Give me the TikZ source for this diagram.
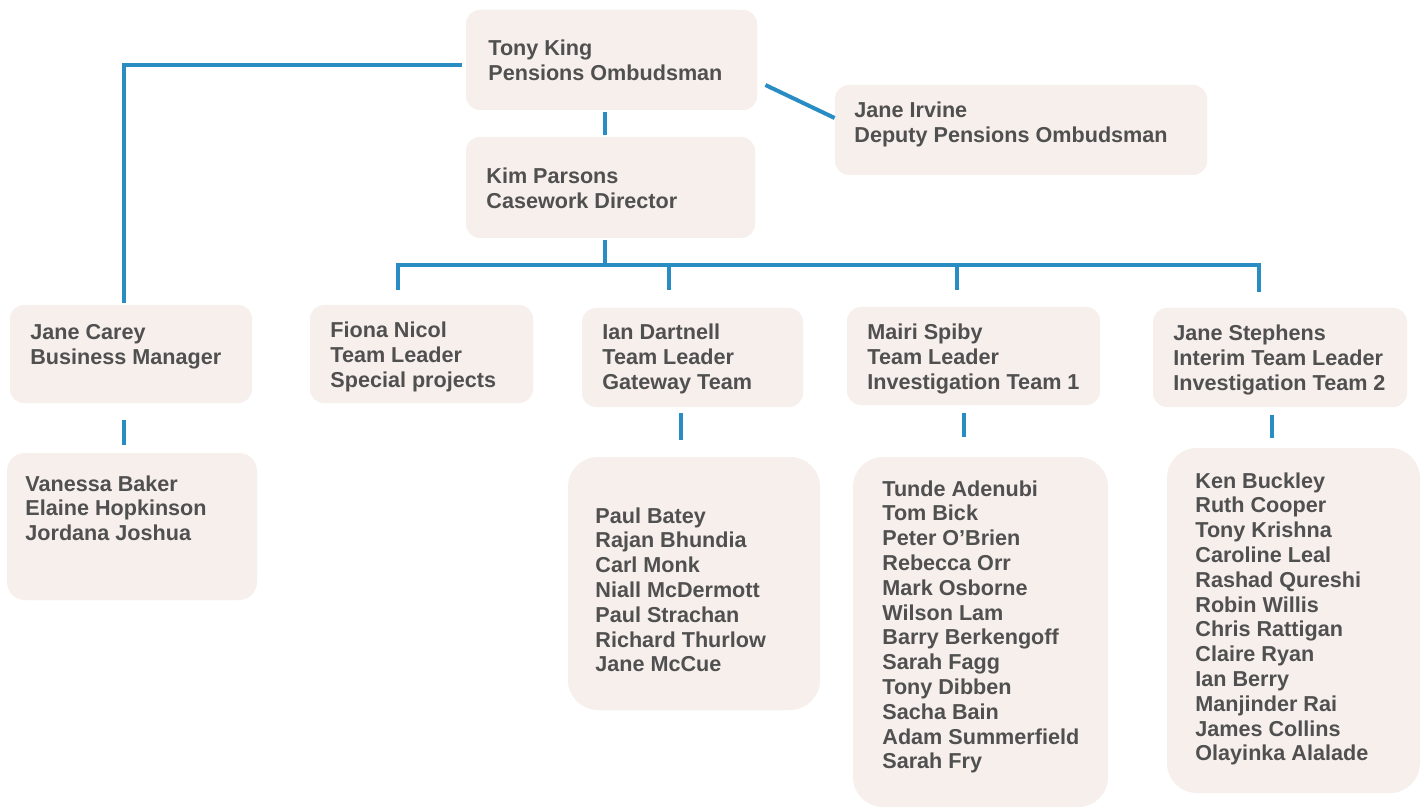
\documentclass[tikz,border=0pt]{standalone}
\usepackage{fontspec}
\setmainfont{Liberation Sans}
\usetikzlibrary{calc}
\definecolor{boxfill}{RGB}{246,239,235}
\definecolor{linkblue}{RGB}{41,141,196}
\definecolor{txtgray}{RGB}{80,80,80}
\newcommand\mlines[1]{\begin{tabular}[t]{@{}l@{}}#1\end{tabular}}
\begin{document}
\begin{tikzpicture}[x=0.5pt,y=-0.5pt,
  orgbox/.style={rectangle, fill=boxfill, draw=none, inner sep=0pt, rounded corners=7pt},
  bigbox/.style={orgbox, rounded corners=15pt},
  txt/.style={anchor=base west, inner sep=0pt, text=txtgray, font=\fontsize{10.8pt}{12.4pt}\selectfont\bfseries},
  conn/.style={draw=linkblue, line width=2pt}]
\useasboundingbox[fill=white] (0,0) rectangle (1423,812);
% boxes
\node[orgbox, minimum width=145.5pt, minimum height=50pt] (tony) at (611.5,60) {};
\node[orgbox, minimum width=186pt, minimum height=45pt] (irvine) at (1021,130) {};
\node[orgbox, minimum width=144.5pt, minimum height=50.5pt] (kim) at (610.5,187.5) {};
\node[orgbox, minimum width=121pt, minimum height=49pt] (carey) at (131,354) {};
\node[orgbox, minimum width=111.5pt, minimum height=49pt] (fiona) at (421.5,354) {};
\node[orgbox, minimum width=110.5pt, minimum height=49.5pt] (ian) at (692.5,357.5) {};
\node[orgbox, minimum width=126.5pt, minimum height=49pt] (mairi) at (973.5,356) {};
\node[orgbox, minimum width=127pt, minimum height=49.5pt] (stephens) at (1280,357.5) {};
\node[orgbox, rounded corners=9pt, minimum width=125pt, minimum height=73.5pt] (vanessa) at (132,526.5) {};
\node[bigbox, minimum width=126pt, minimum height=126.5pt] (paul) at (694,583.5) {};
\node[bigbox, minimum width=127.5pt, minimum height=175pt] (tunde) at (980.5,632) {};
\node[bigbox, minimum width=126.5pt, minimum height=172.5pt] (ken) at (1293.5,620.5) {};
% texts
\node[txt] (tonyT) at (488,56) {\mlines{Tony King\\Pensions Ombudsman}};
\node[txt] (irvineT) at (854,118) {\mlines{Jane Irvine\\Deputy Pensions Ombudsman}};
\node[txt] (kimT) at (486,184) {\mlines{Kim Parsons\\Casework Director}};
\node[txt] (careyT) at (30,340) {\mlines{Jane Carey\\Business Manager}};
\node[txt] (fionaT) at (330,338) {\mlines{Fiona Nicol\\Team Leader\\Special projects}};
\node[txt] (ianT) at (602,340) {\mlines{Ian Dartnell\\Team Leader\\Gateway Team}};
\node[txt] (mairiT) at (867,340) {\mlines{Mairi Spiby\\Team Leader\\Investigation Team 1}};
\node[txt] (stephensT) at (1173,341) {\mlines{Jane Stephens\\Interim Team Leader\\Investigation Team 2}};
\node[txt] (vanessaT) at (25,491) {\mlines{Vanessa Baker\\Elaine Hopkinson\\Jordana Joshua}};
\node[txt] (paulT) at (595,523) {\mlines{Paul Batey\\Rajan Bhundia\\Carl Monk\\Niall McDermott\\Paul Strachan\\Richard Thurlow\\Jane McCue}};
\node[txt] (tundeT) at (882,496) {\mlines{Tunde Adenubi\\Tom Bick\\Peter O’Brien\\Rebecca Orr\\Mark Osborne\\Wilson Lam\\Barry Berkengoff\\Sarah Fagg\\Tony Dibben\\Sacha Bain\\Adam Summerfield\\Sarah Fry}};
\node[txt] (kenT) at (1195,488) {\mlines{Ken Buckley\\Ruth Cooper\\Tony Krishna\\Caroline Leal\\Rashad Qureshi\\Robin Willis\\Chris Rattigan\\Claire Ryan\\Ian Berry\\Manjinder Rai\\James Collins\\Olayinka Alalade}};
% connectors
\draw[conn] ($(tony.west)+(-4,5)$) -| ($(carey.north)+(-7,-2)$);
\draw[conn] ($(tony.south)+(-6.5,2)$) -- ($(kim.north)+(-5.5,-2)$);
\draw[conn] ($(tony.east)+(8,25)$) -- ($(irvine.west)+(0,-12)$);
\draw[conn] ($(kim.south)+(-5.5,2)$) -- ($(kim.south)+(-5.5,27)$);
\draw[conn] ($(fiona.north)+(-23.5,-15)$) |- ($(stephens.north)+(-21,-43)$) -- ($(stephens.north)+(-21,-16)$);
\draw[conn] ($(ian.north)+(-23.5,-43)$) -- ($(ian.north)+(-23.5,-18)$);
\draw[conn] ($(mairi.north)+(-16.5,-42)$) -- ($(mairi.north)+(-16.5,-17)$);
\draw[conn] ($(carey.south)+(-7,17)$) -- ($(vanessa.north)+(-8,-8)$);
\draw[conn] ($(ian.south)+(-11.5,6)$) -- ($(paul.north)+(-13,-17)$);
\draw[conn] ($(mairi.south)+(-9.5,8)$) -- ($(tunde.north)+(-16.5,-20)$);
\draw[conn] ($(stephens.south)+(-8,8)$) -- ($(ken.north)+(-21.5,-10)$);
\end{tikzpicture}
\end{document}
